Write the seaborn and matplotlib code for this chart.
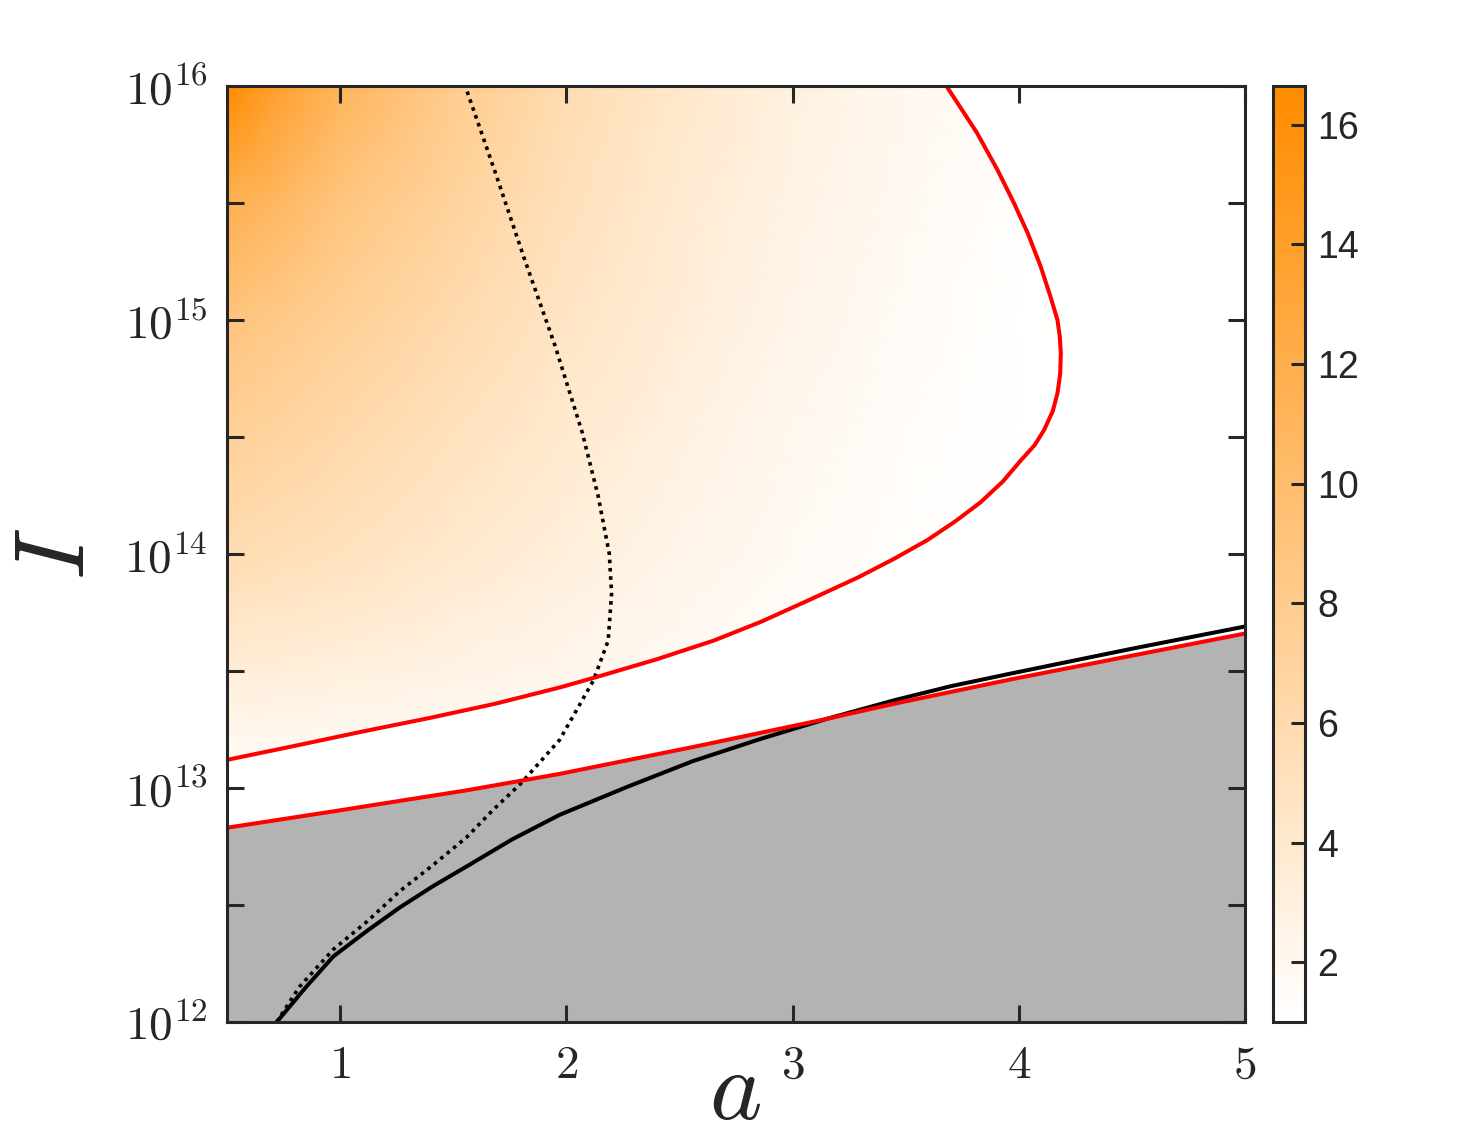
import numpy as np
import matplotlib
matplotlib.use('Agg')
import matplotlib.pyplot as plt
import seaborn as sns
from matplotlib.colors import LinearSegmentedColormap
from matplotlib.patches import Polygon

# =========================================================
# DATOS (eje y = log10(I))
# =========================================================

# curva roja superior (contorno de la región coloreada)
rojo_sup_a = [0.5, 0.8, 1.093, 1.4, 1.686, 1.973, 2.137, 2.4, 2.652, 2.86, 3.066, 3.29,
              3.45, 3.597, 3.72, 3.83, 3.93, 4.009, 4.07, 4.112, 4.15, 4.171, 4.183,
              4.186, 4.181, 4.171, 4.14, 4.097, 4.04, 3.979, 3.906, 3.815, 3.68]
rojo_sup_logI = [13.12, 13.18, 13.24, 13.30, 13.36, 13.43, 13.475, 13.55, 13.63, 13.71,
                 13.80, 13.90, 13.98, 14.06, 14.14, 14.22, 14.31, 14.40, 14.465, 14.53,
                 14.61, 14.687, 14.77, 14.858, 14.93, 15.0, 15.1, 15.228, 15.37, 15.499,
                 15.641, 15.8, 16.0]

# curva roja inferior (límite de la región gris)
rojo_inf_a = [0.5, 0.97, 1.56, 1.97, 2.56, 3.15, 3.45, 3.97, 5.0]
rojo_inf_logI = [12.83, 12.90, 12.99, 13.06, 13.175, 13.295, 13.36, 13.465, 13.66]

# curva negra continua
negra_a = [0.72, 0.85, 0.97, 1.12, 1.265, 1.41, 1.56, 1.76, 1.97, 2.27, 2.56, 2.86,
           3.15, 3.45, 3.7, 3.97, 4.5, 5.0]
negra_logI = [12.0, 12.15, 12.28, 12.39, 12.49, 12.58, 12.665, 12.78, 12.885, 13.005,
              13.115, 13.21, 13.295, 13.375, 13.435, 13.49, 13.595, 13.69]

# curva negra punteada
punteada_a = [0.72, 0.82, 0.97, 1.12, 1.265, 1.41, 1.56, 1.68, 1.80, 1.97, 2.12, 2.185,
              2.20, 2.19, 2.14, 2.07, 1.95, 1.815, 1.686, 1.553]
punteada_logI = [12.0, 12.15, 12.31, 12.43, 12.56, 12.67, 12.79, 12.91, 13.02, 13.205,
                 13.46, 13.63, 13.83, 14.0, 14.25, 14.52, 14.89, 15.26, 15.63, 16.0]

# mapa de color (valores estimados en una malla gruesa)
malla_a = [0.5, 0.75, 1.0, 1.5, 2.0, 2.5, 3.0, 3.5, 4.0, 4.5]
malla_logI = [13.0, 13.5, 14.0, 14.5, 15.0, 15.5, 16.0]
valores = [
    [1.0, 1.0, 1.0, 1.0, 1.0, 1.0, 1.0, 1.0, 1.0, 1.0],
    [3.5, 3.3, 3.1, 2.6, 2.2, 1.7, 1.3, 1.0, 1.0, 1.0],
    [5.8, 5.4, 5.0, 4.0, 3.2, 2.4, 1.7, 1.2, 1.0, 1.0],
    [7.4, 6.8, 6.2, 5.0, 3.9, 2.9, 2.0, 1.4, 1.0, 1.0],
    [9.0, 8.2, 7.4, 6.0, 4.6, 3.4, 2.4, 1.6, 1.1, 1.0],
    [11.8, 10.5, 8.9, 7.0, 5.2, 3.8, 2.7, 1.8, 1.2, 1.0],
    [16.6, 13.5, 11.1, 8.0, 5.8, 4.2, 3.0, 2.0, 1.3, 1.0],
]

ticks_x = [1, 2, 3, 4, 5]
ticks_y = [12, 13, 14, 15, 16]
ticks_y_menores = [12.5, 13.5, 14.5, 15.5]
ticks_barra = [2, 4, 6, 8, 10, 12, 14, 16]

# =========================================================
# ESTILO
# =========================================================
sns.set_theme(style='ticks')
plt.rcParams['mathtext.fontset'] = 'cm'
plt.rcParams['font.family'] = ['Liberation Sans', 'DejaVu Sans']

gris_ejes = '#262626'
mapa = LinearSegmentedColormap.from_list('naranja', ['#FFFFFF', '#FF8C00'])

fig = plt.figure(figsize=(14.76, 11.48), dpi=100)
ax = fig.add_axes([0.1538, 0.1098, 0.6897, 0.8153])
cax = fig.add_axes([0.8625, 0.1098, 0.0217, 0.8153])

# =========================================================
# GRÁFICO
# =========================================================
A, L = np.meshgrid(malla_a, malla_logI)
malla = ax.pcolormesh(A, L, np.array(valores), shading='gouraud',
                      cmap=mapa, vmin=1, vmax=16.65, zorder=1)
recorte = Polygon(np.column_stack([rojo_sup_a + [0.5], rojo_sup_logI + [16.0]]),
                  closed=True, transform=ax.transData)
malla.set_clip_path(recorte)

# región gris
ax.fill_between(rojo_inf_a, 12, rojo_inf_logI, color='#B3B3B3', lw=0, zorder=2)

# curvas
sns.lineplot(x=negra_a, y=negra_logI, sort=False, estimator=None,
             color='black', lw=2.9, ax=ax, zorder=3)
sns.lineplot(x=punteada_a, y=punteada_logI, sort=False, estimator=None,
             color='black', lw=2.6, linestyle=(0, (1, 1.3)), ax=ax, zorder=3)
sns.lineplot(x=rojo_inf_a, y=rojo_inf_logI, sort=False, estimator=None,
             color='red', lw=2.9, ax=ax, zorder=4)
sns.lineplot(x=rojo_sup_a, y=rojo_sup_logI, sort=False, estimator=None,
             color='red', lw=2.9, ax=ax, zorder=4)

# ejes
ax.set_axisbelow(False)
ax.set_xlim(0.5, 5)
ax.set_ylim(12, 16)
ax.set_xticks(ticks_x)
ax.set_xticklabels([f'${v}$' for v in ticks_x])
ax.set_yticks(ticks_y)
ax.set_yticklabels([f'$10^{{{v}}}$' for v in ticks_y])
ax.set_yticks(ticks_y_menores, minor=True)
ax.tick_params(which='both', direction='in', top=True, right=True,
               length=12, width=2.2, color=gris_ejes, labelcolor=gris_ejes)
ax.tick_params(axis='x', labelsize=34, pad=16)
ax.tick_params(axis='y', labelsize=34, pad=14)
for s in ax.spines.values():
    s.set_linewidth(2.2)
    s.set_color(gris_ejes)
    s.set_zorder(5)

ax.set_xlabel('$a$', fontsize=72, color=gris_ejes)
ax.set_ylabel('$I$', fontsize=72, color=gris_ejes)
ax.xaxis.set_label_coords(0.499, -0.026)
ax.yaxis.set_label_coords(-0.120, 0.5)

# barra de color
cb = fig.colorbar(malla, cax=cax, ticks=ticks_barra)
cb.outline.set_linewidth(2.2)
cb.outline.set_edgecolor(gris_ejes)
cax.set_axisbelow(False)
cax.tick_params(direction='in', length=10, width=2.2, labelsize=27, pad=9,
                color=gris_ejes, labelcolor=gris_ejes)

fig.savefig('out.png', dpi=100)
